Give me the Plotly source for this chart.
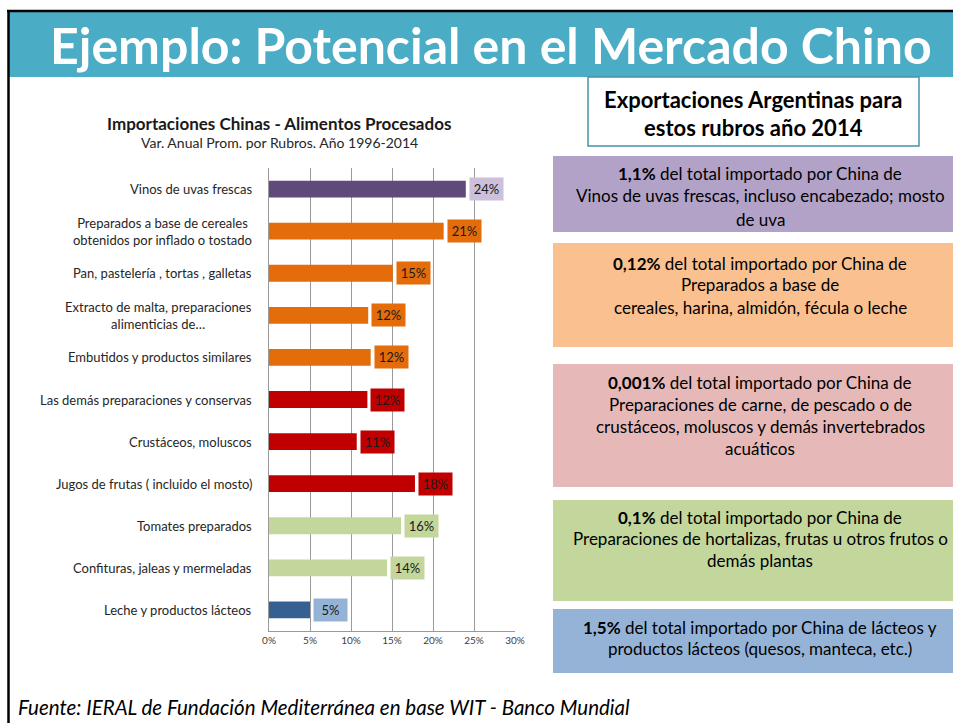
import plotly.graph_objects as go

W, H = 953, 723

# ── datos ─────────────────────────────────────────
categories = [
    "Vinos de uvas frescas",
    "Preparados a base de cereales<br>obtenidos por inflado o tostado",
    "Pan, pastelería , tortas , galletas",
    "Extracto de malta, preparaciones<br>alimenticias de…",
    "Embutidos y productos similares",
    "Las demás preparaciones y conservas",
    "Crustáceos, moluscos",
    "Jugos de frutas ( incluido el mosto)",
    "Tomates preparados",
    "Confituras, jaleas y mermeladas",
    "Leche y productos lácteos",
]
var_anual = [24.0, 21.3, 15.1, 12.1, 12.4, 12.0, 10.7, 17.8, 16.1, 14.4, 5.0]
x_ticks = [0, 5, 10, 15, 20, 25, 30]

# grupo de cada rubro -> color
grupos = ["vino", "cereal", "cereal", "cereal", "cereal", "carne", "carne",
          "carne", "horta", "horta", "lacteo"]
bar_color = {"vino": "#604A7B", "cereal": "#E46C0A", "carne": "#C00000",
             "horta": "#C3D69B", "lacteo": "#376092"}
lbl_color = {"vino": "#CCC0DA", "cereal": "#E46C0A", "carne": "#C00000",
             "horta": "#C3D69B", "lacteo": "#95B3D7"}

cajas = [
    ("#B3A2C7", 156, 232, 173, 23,
     ["<b>1,1%</b> del total importado por China de",
      "Vinos de uvas frescas, incluso encabezado; mosto",
      "de uva"]),
    ("#FAC090", 243, 347, 263, 22,
     ["<b>0,12%</b> del total importado por China de",
      "Preparados a base de",
      "cereales, harina, almidón, fécula o leche"]),
    ("#E6B9B8", 364, 487, 382, 22,
     ["<b>0,001%</b> del total importado por China de",
      "Preparaciones de carne, de pescado o de",
      "crustáceos, moluscos y demás invertebrados",
      "acuáticos"]),
    ("#C3D69B", 500, 601, 517, 21.5,
     ["<b>0,1%</b> del total importado por China de",
      "Preparaciones de hortalizas, frutas u otros frutos o",
      "demás plantas"]),
    ("#95B3D7", 609, 673, 627, 21,
     ["<b>1,5%</b> del total importado por China de lácteos y",
      "productos lácteos (quesos, manteca, etc.)"]),
]

FONT = "Lato"


def px(x):
    return x / W


def py(y):
    return 1 - y / H


fig = go.Figure()
fig.add_trace(go.Bar(
    x=var_anual, y=categories, orientation="h", width=0.4,
    marker=dict(color=[bar_color[g] for g in grupos], line=dict(width=0)),
    hoverinfo="skip",
))

shapes = [
    dict(type="rect", xref="paper", yref="paper", x0=px(9), x1=1, y0=py(77), y1=py(11),
         fillcolor="#4BACC6", line=dict(width=0)),
    dict(type="line", xref="paper", yref="paper", x0=px(7), x1=1, y0=py(11), y1=py(11),
         line=dict(color="#000000", width=2.5)),
    dict(type="line", xref="paper", yref="paper", x0=px(8.5), x1=px(8.5), y0=0, y1=py(11),
         line=dict(color="#000000", width=2.5)),
    dict(type="rect", xref="paper", yref="paper", x0=px(588), x1=px(919), y0=py(146), y1=py(77),
         fillcolor="#FFFFFF", line=dict(color="#4A91AA", width=1.5)),
]
annotations = [
    dict(text="<b>Ejemplo: Potencial en el Mercado Chino</b>", x=px(491), y=py(45),
         font=dict(family=FONT, size=50, color="#FFFFFF")),
    dict(text="<b>Importaciones Chinas - Alimentos Procesados</b>", x=px(279), y=py(123),
         font=dict(family=FONT, size=17, color="#1a1a1a")),
    dict(text="Var. Anual Prom. por Rubros. Año 1996-2014", x=px(279), y=py(143),
         font=dict(family=FONT, size=14, color="#262626")),
    dict(text="<b>Exportaciones Argentinas para</b>", x=px(753), y=py(100),
         font=dict(family=FONT, size=22, color="#000000")),
    dict(text="<b>estos rubros año 2014</b>", x=px(753), y=py(127),
         font=dict(family=FONT, size=22, color="#000000")),
    dict(text="<i>Fuente: IERAL de Fundación Mediterránea en base WIT - Banco Mundial</i>",
         x=px(16), y=py(707), xanchor="left",
         font=dict(family=FONT, size=20.5, color="#000000")),
]
for a in annotations:
    a.setdefault("xanchor", "center")
    a.update(xref="paper", yref="paper", yanchor="middle", showarrow=False)

for color, y0, y1, first, step, lines in cajas:
    shapes.append(dict(type="rect", xref="paper", yref="paper", x0=px(553), x1=1,
                       y0=py(y1), y1=py(y0), fillcolor=color, line=dict(width=0)))
    for i, t in enumerate(lines):
        annotations.append(dict(text=t, xref="paper", yref="paper", x=px(760),
                                y=py(first + i * step), xanchor="center", yanchor="middle",
                                showarrow=False,
                                font=dict(family=FONT, size=17, color="#000000")))

# etiquetas de categorías (centradas como en Excel) y etiquetas de datos
for cat, v, g in zip(categories, var_anual, grupos):
    annotations.append(dict(text=cat, xref="paper", yref="y", x=px(254), y=cat,
                            xanchor="right", yanchor="middle", align="center",
                            showarrow=False,
                            font=dict(family=FONT, size=13, color="#262626")))
    annotations.append(dict(text=f"{round(v)}%", xref="x", yref="y", x=v, y=cat,
                            xanchor="left", yanchor="middle", xshift=3, showarrow=False,
                            width=31, height=20, bgcolor=lbl_color[g],
                            font=dict(family=FONT, size=13, color="#1a1a1a")))

fig.update_layout(
    width=W, height=H, margin=dict(l=0, r=0, t=0, b=0, autoexpand=False),
    paper_bgcolor="#FFFFFF", plot_bgcolor="#FFFFFF",
    showlegend=False, shapes=shapes, annotations=annotations,
    xaxis=dict(domain=[px(269), px(515)], range=[0, 30], tickvals=x_ticks,
               ticktext=[f"{t}%" for t in x_ticks], showgrid=True,
               gridcolor="#9A9A9A", gridwidth=1, zeroline=False, showline=True,
               linecolor="#9A9A9A", linewidth=1, ticks="", automargin=False,
               tickfont=dict(family=FONT, size=10, color="#404040")),
    yaxis=dict(domain=[py(631), py(168)], range=[len(categories) - 0.5, -0.5],
               showticklabels=False, showgrid=False, zeroline=False, showline=True,
               linecolor="#9A9A9A", linewidth=1, ticks="", automargin=False),
)

# sin margen del body para que la figura quede pegada a la ventana
js = ("document.documentElement.style.overflow='hidden';"
      "document.body.style.margin='0px';document.body.style.overflow='hidden';")
fig.write_html("out.html", config={"displayModeBar": False}, post_script=js)
